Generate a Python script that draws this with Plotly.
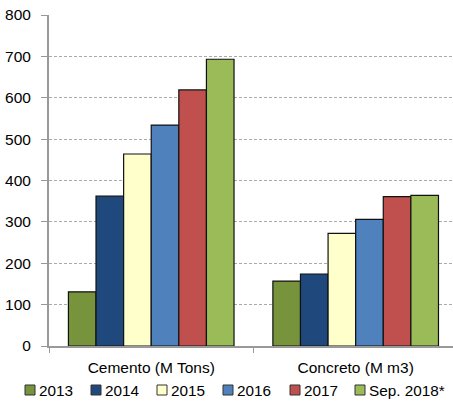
import plotly.graph_objects as go

categories = ["Cemento (M Tons)", "Concreto (M m3)"]
years = ["2013", "2014", "2015", "2016", "2017", "Sep. 2018*"]
values = {
    "2013": [131, 157],
    "2014": [362, 174],
    "2015": [464, 272],
    "2016": [534, 306],
    "2017": [619, 361],
    "Sep. 2018*": [693, 364],
}
colors = ["#77933C", "#1F497D", "#FFFFCC", "#4F81BD", "#C0504D", "#9BBB59"]
y_ticks = [0, 100, 200, 300, 400, 500, 600, 700, 800]

W, H = 453, 406
M_L, M_R, M_T, M_B = 49, 0, 15, 60
plot_w = W - M_L - M_R
plot_h = H - M_T - M_B

FONT = "Liberation Sans, Arial, sans-serif"

fig = go.Figure()
for year, color in zip(years, colors):
    fig.add_trace(go.Bar(
        name=year,
        x=categories,
        y=values[year],
        marker=dict(color=color, line=dict(color="#111111", width=1.2)),
        showlegend=False,
    ))

# Legend row under the category labels: small outlined square + label
legend_left_px = [25, 91, 157, 223, 290, 355]
legend_center_px = 390
sq = 10


def px_to_paper_x(px):
    return (px - M_L) / plot_w


def px_to_paper_y(py):
    return (H - M_B - py) / plot_h


shapes = []
annotations = []
for year, color, left in zip(years, colors, legend_left_px):
    shapes.append(dict(
        type="rect", xref="paper", yref="paper",
        x0=px_to_paper_x(left), x1=px_to_paper_x(left + sq),
        y0=px_to_paper_y(legend_center_px + sq / 2),
        y1=px_to_paper_y(legend_center_px - sq / 2),
        fillcolor=color, line=dict(color="#333333", width=1),
    ))
    annotations.append(dict(
        text=year, xref="paper", yref="paper",
        x=px_to_paper_x(left + sq + 2), y=px_to_paper_y(legend_center_px),
        xanchor="left", yanchor="middle", showarrow=False,
        font=dict(family=FONT, size=15.3, color="#000000"),
    ))

fig.update_layout(
    width=W,
    height=H,
    margin=dict(l=M_L, r=M_R, t=M_T, b=M_B, autoexpand=False),
    paper_bgcolor="white",
    plot_bgcolor="white",
    barmode="group",
    bargap=0.19,
    bargroupgap=0,
    font=dict(family=FONT, size=15.5, color="#000000"),
    showlegend=False,
    shapes=shapes,
    annotations=annotations,
)
fig.update_xaxes(
    range=[-0.5, 1.476],
    showline=True,
    linecolor="#999999",
    linewidth=2,
    ticks="outside",
    tickson="boundaries",
    ticklen=5,
    tickcolor="#999999",
    tickwidth=1,
    showgrid=False,
    ticklabelstandoff=6,
    tickfont=dict(size=15.5),
)
fig.update_yaxes(
    range=[0, 800],
    tickvals=y_ticks,
    showline=True,
    linecolor="#999999",
    linewidth=2,
    ticks="outside",
    ticklen=6,
    tickcolor="#999999",
    tickwidth=1,
    showgrid=True,
    gridcolor="#AAAAAA",
    griddash="3px,2px",
    gridwidth=1,
    zeroline=False,
    ticklabelstandoff=7,
    tickfont=dict(size=15.5),
)

fig.write_html("out.html")
